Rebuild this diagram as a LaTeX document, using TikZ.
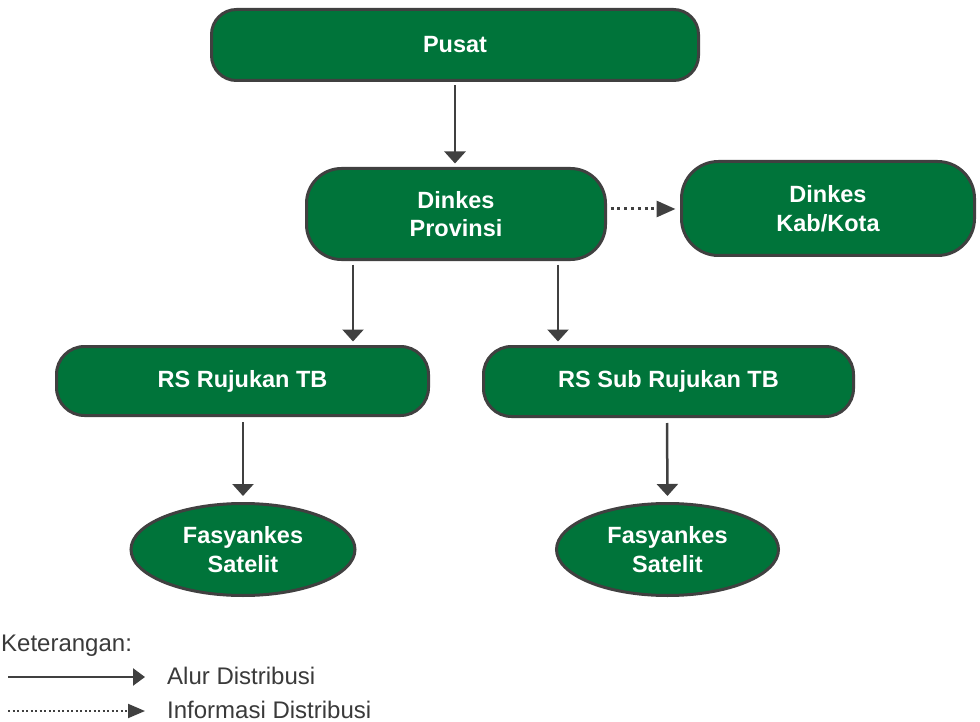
\documentclass[tikz,border=0pt]{standalone}
\usepackage{fontspec}
\setmainfont{Liberation Sans}
\usetikzlibrary{arrows.meta,shapes.geometric}
\definecolor{boxgreen}{RGB}{0,116,58}
\definecolor{edge}{RGB}{64,64,64}
\definecolor{legtext}{RGB}{58,58,58}
\tikzset{
  box/.style={draw=edge, line width=3pt, fill=boxgreen, text=white, align=center,
    font=\fontsize{23.5}{28.5}\selectfont\bfseries, inner sep=0pt},
  oval/.style={box, ellipse},
  arr/.style={draw=edge, line width=2.5pt, -{Triangle[width=21pt,length=12pt]}},
  dotarr/.style={draw=edge, line width=3pt, dash pattern=on 3pt off 3.8pt,
    -{Triangle[width=16pt,length=19pt]}},
  legarr/.style={draw=edge, line width=2.5pt, -{Triangle[width=17pt,length=12pt]}},
  legdot/.style={draw=edge, line width=2pt, dash pattern=on 2pt off 2.5pt,
    -{Triangle[width=14pt,length=17pt]}},
  legtxt/.style={anchor=base west, inner sep=0pt, text=legtext,
    font=\fontsize{24}{28}\selectfont},
}
\begin{document}
\begin{tikzpicture}[x=1pt,y=-1pt]
\useasboundingbox (0,0) rectangle (980,722);

\node[box, minimum width=487pt, minimum height=71pt, rounded corners=25pt] (pusat) at (455,45) {Pusat};
\node[box, minimum width=299pt, minimum height=91pt, rounded corners=35pt] (dp) at (456,214) {Dinkes\\Provinsi};
\node[box, minimum width=293pt, minimum height=94pt, rounded corners=37pt] (kk) at (828,208.5) {Dinkes\\Kab/Kota};
\node[box, minimum width=372pt, minimum height=69pt, rounded corners=28pt] (rsr) at (242.5,381) {RS Rujukan TB};
\node[box, minimum width=370pt, minimum height=70pt, rounded corners=28pt] (rss) at (668.5,381.5) {RS Sub Rujukan TB};
\node[oval, minimum width=224pt, minimum height=92pt] (e1) at (243,549.5) {Fasyankes\\Satelit};
\node[oval, minimum width=222pt, minimum height=92pt] (e2) at (667.5,549.5) {Fasyankes\\Satelit};

\draw[arr, shorten <=3.5pt, shorten >=3.5pt] (pusat.south -| 455,0) -- (dp.north -| 455,0);
\draw[dotarr, shorten <=3.5pt, shorten >=4.5pt] (dp.east |- 0,209) -- (kk.west |- 0,209);
\draw[arr, shorten <=3.5pt, shorten >=3.5pt] (dp.south -| 353,0) -- (rsr.north -| 353,0);
\draw[arr, shorten <=3.5pt, shorten >=3.5pt] (dp.south -| 558,0) -- (rss.north -| 558,0);
\draw[arr, shorten <=5pt, shorten >=6pt] (rsr.south -| 243,0) -- (e1.north);
\draw[arr, shorten <=5pt, shorten >=6pt] (rss.south -| 667,0) -- (e2.north);

% legend
\node[legtxt] (ket) at (1,651) {Keterangan:};
\node[legtxt] (alur) at (167,684) {Alur Distribusi};
\node[legtxt] (info) at (167,718) {Informasi Distribusi};
\coordinate (l1s) at (8,677);
\coordinate (l1e) at (145,677);
\coordinate (l2s) at (8,711);
\coordinate (l2e) at (145,711);
\draw[legarr] (l1s) -- (l1e);
\draw[legdot] (l2s) -- (l2e);
\end{tikzpicture}
\end{document}
